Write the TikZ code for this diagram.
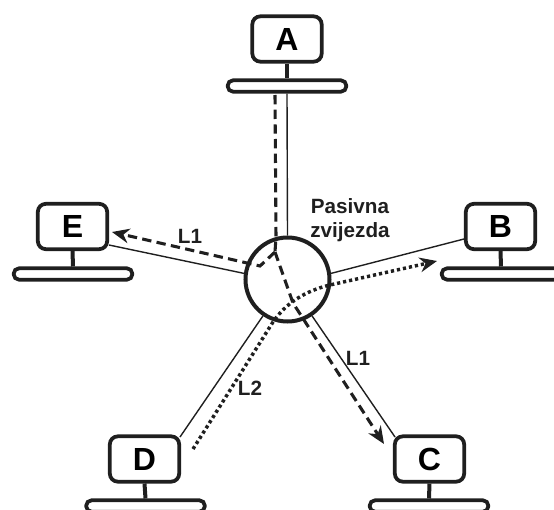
\documentclass[tikz,border=0pt]{standalone}
\usepackage{fontspec}
\setmainfont{Liberation Sans}
\usetikzlibrary{arrows.meta}
\definecolor{ink}{gray}{0.12}
\tikzset{
  x=0.75pt,y=-0.75pt,
  termbox/.style={draw=ink,line width=2.8pt,rounded corners=6pt,minimum width=52pt,minimum height=34pt,inner sep=0pt,font=\fontsize{24}{26}\bfseries},
  basebar/.style={draw=ink,line width=2.8pt,rounded corners=4pt,minimum width=89pt,minimum height=8.5pt,inner sep=0pt},
  hubnode/.style={draw=ink,circle,line width=3pt,minimum size=63pt,inner sep=0pt},
  stem/.style={draw=ink,line width=3pt},
  link/.style={draw=ink,line width=1.05pt},
  pathone/.style={draw=ink,line width=2.3pt,dash pattern=on 7pt off 4pt},
  pathtwo/.style={draw=ink,line width=2.6pt,dash pattern=on 2.4pt off 2.2pt},
  tipone/.style={-{Stealth[length=13pt,width=11pt]}},
  lbl/.style={font=\fontsize{15.5}{18}\bfseries,text=ink,inner sep=0pt,align=center}
}
\begin{document}
\begin{tikzpicture}
\clip (0,0) rectangle (554,510);
% terminals
\node[termbox] (A) at (287,39) {A};
\node[basebar] (Ab) at (287,86) {};
\node[termbox] (B) at (500.5,226.5) {B};
\node[basebar] (Bb) at (501,274) {};
\node[termbox] (C) at (429.5,459) {C};
\node[basebar] (Cb) at (429,506) {};
\node[termbox] (D) at (144.5,459) {D};
\node[basebar] (Db) at (145.5,506) {};
\node[termbox] (E) at (72.5,226.5) {E};
\node[basebar] (Eb) at (73,274) {};
\node[hubnode] (hub) at (287.5,279.5) {};
% stems
\foreach \t in {A,B,C,D,E} \draw[stem] (\t.south) -- (\t b.north);
% free ends
\coordinate (bEnd) at (464,239);
\coordinate (cEnd) at (395,437);
\coordinate (dEnd) at (180,437);
\coordinate (eEnd) at (109,245);
\coordinate (dashStart) at (275,95);
\coordinate (dashFork) at (275,252);
\coordinate (dashE) at (247,263);
\coordinate (dashEk) at (260,266);
\coordinate (dashC) at (293,303);
\coordinate (tipE) at (112,232);
\coordinate (tipC) at (384,444);
\coordinate (dotStart) at (193,449);
\coordinate (dotA) at (273,322);
\coordinate (dotB) at (330,285);
\coordinate (tipB) at (437,261);
% links
\draw[link] (Ab.south) -- (hub.north);
\draw[link] (hub.8) -- (bEnd);
\draw[link] (hub.304) -- (cEnd);
\draw[link] (hub.236) -- (dEnd);
\draw[link] (hub.172) -- (eEnd);
% light paths
\draw[pathone] (dashStart) -- (276,237) -- (dashFork);
\draw[pathone,tipone] (dashFork) -- (dashEk) -- (dashE) -- (tipE);
\draw[pathone,tipone] (dashFork) -- (dashC) -- (tipC);
\draw[pathtwo,tipone] (dotStart) -- (dotA) .. controls (286,303) and (305,291) .. (dotB) -- (tipB);
% labels
\node[lbl] (lblS) at (350,220) {Pasivna\\zvijezda};
\node[lbl] (lblE) at (190,236) {L1};
\node[lbl] (lblC) at (358,358) {L1};
\node[lbl] (lblD) at (250,388) {L2};
\end{tikzpicture}
\end{document}
